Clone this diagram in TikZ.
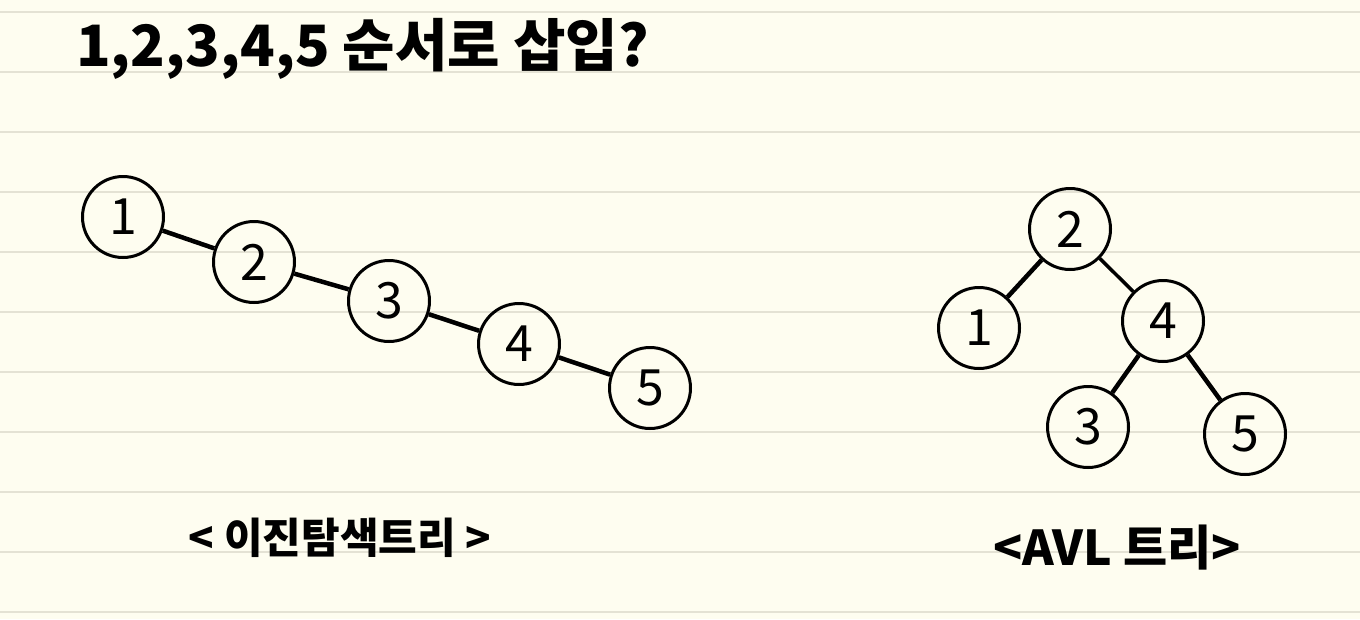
\documentclass[tikz,border=0pt]{standalone}
\usepackage{fontspec}
\newfontfamily\kr{Noto Sans CJK KR}
\definecolor{paper}{HTML}{FEFDF0}
\definecolor{rule}{HTML}{E4E2D4}
\begin{document}
\begin{tikzpicture}[x=1pt,y=-1pt,
  tnode/.style={circle,draw=black,line width=3pt,minimum size=81pt,inner sep=0pt,
    font=\kr\fontsize{50}{50}\selectfont},
  tedge/.style={line width=4.5pt,black},
  lbl/.style={inner sep=0pt,font=\kr}]
\fill[paper] (0,0) rectangle (1360,619);
\useasboundingbox (0,0) rectangle (1360,619);
\foreach \k in {0,...,10}{\draw[rule,line width=2.5pt] (0,{12+60*\k}) -- (1360,{12+60*\k});}
% title
\node[lbl,font=\kr\bfseries\fontsize{57}{57}\selectfont,anchor=base west] (title) at (76,66) {1,2,3,4,5 순서로 삽입?};
% binary search tree
\node[tnode] (a1) at (123,217) {1};
\node[tnode] (a2) at (254,262) {2};
\node[tnode] (a3) at (389,301) {3};
\node[tnode] (a4) at (519,344) {4};
\node[tnode] (a5) at (650,388) {5};
\draw[tedge] (a1) -- (a2);
\draw[tedge] (a2) -- (a3);
\draw[tedge] (a3) -- (a4);
\draw[tedge] (a4) -- (a5);
% AVL tree
\node[tnode] (b2) at (1070,229) {2};
\node[tnode] (b1) at (979,328) {1};
\node[tnode] (b4) at (1163,321) {4};
\node[tnode] (b3) at (1088,427) {3};
\node[tnode] (b5) at (1245,434) {5};
\draw[tedge] (b2) -- (b1);
\draw[tedge,line width=3.5pt] (b2) -- (b4);
\draw[tedge] (b4) -- (b3);
\draw[tedge] (b4) -- (b5);
% labels
\node[lbl,font=\kr\bfseries\fontsize{42}{42}\selectfont] (l1) at (340,538) {\textless{} 이진탐색트리 \textgreater};
\node[lbl,font=\kr\bfseries\fontsize{48}{48}\selectfont] (l2) at (1117,548) {\textless AVL 트리\textgreater};
\end{tikzpicture}
\end{document}
